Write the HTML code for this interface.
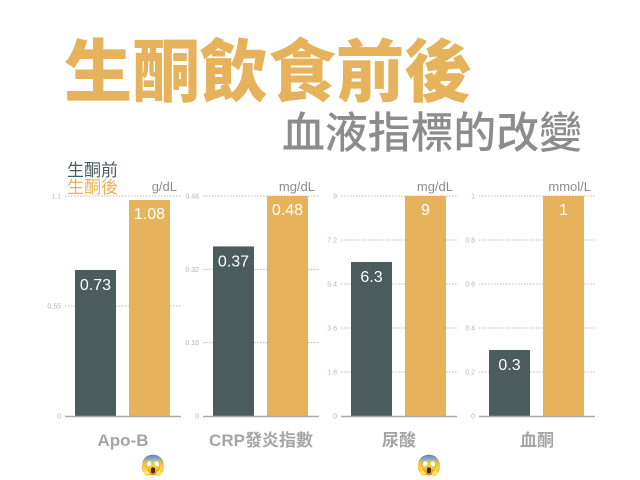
<!DOCTYPE html>
<html><head><meta charset="utf-8"><style>
html,body{margin:0;padding:0;background:#fff;width:640px;height:480px;overflow:hidden}
svg text{font-family:"Liberation Sans","Noto Sans CJK TC",sans-serif}
</style></head><body>
<svg id="c" width="640" height="480" viewBox="0 0 640 480">
<text x="64" y="96" font-size="68" font-weight="900" fill="#e6b25c" textLength="408" lengthAdjust="spacingAndGlyphs" style="font-family:'Noto Sans CJK TC',sans-serif">生酮飲食前後</text>
<text x="282" y="148" font-size="43" font-weight="500" fill="#8c8c8c" textLength="300" lengthAdjust="spacingAndGlyphs" style="font-family:'Noto Sans CJK TC',sans-serif">血液指標的改變</text>
<text x="67" y="176" font-size="17" fill="#4a5b5b">生酮前</text>
<text x="67" y="193" font-size="17" fill="#e6b25c">生酮後</text>
</svg>
<script>
const categories=["Apo-B","CRP發炎指數","尿酸","血酮"];
const units=["g/dL","mg/dL","mg/dL","mmol/L"];
const beforeValues=[0.73,0.37,6.3,0.3];
const afterValues=[1.08,0.48,9,1];
const axisMax=[1.1,0.48,9,1];
const tickLabels=[["0","0.55","1.1"],["0","0.16","0.32","0.48"],["0","1.8","3.6","5.4","7.2","9"],["0","0.2","0.4","0.6","0.8","1"]];
const beforeLabels=["0.73","0.37","6.3","0.3"];
const afterLabels=["1.08","0.48","9","1"];
const emojiOn=[true,false,true,false];

const svg=document.getElementById('c');
const NS='http://www.w3.org/2000/svg';
const base=416, top_=196, panelX0=65, panelStep=138, panelW=116;
function mk(t,a){const e=document.createElementNS(NS,t);for(const k in a)e.setAttribute(k,a[k]);svg.appendChild(e);return e;}
function yScale(i,v){return base-(v/axisMax[i])*(base-top_);}
categories.forEach((cat,i)=>{
  const x0=panelX0+i*panelStep;
  tickLabels[i].forEach(t=>{
    const y=yScale(i,parseFloat(t));
    if(parseFloat(t)>0){const g=mk('line',{x1:x0,x2:x0+panelW,y1:y,y2:y,stroke:'#bbb','stroke-width':1,'stroke-dasharray':'1.5,1.5'});
    
    }
    const tl=mk('text',{x:x0-4,y:y+2.5,'font-size':7,fill:'#b5b5b5','text-anchor':'end'});
    
    
    tl.textContent=t;
  });
  const bx=x0+10, ax=x0+64, bw=41;
  const yb=yScale(i,beforeValues[i]), ya=yScale(i,afterValues[i]);
  const b1=mk('rect',{x:bx,y:yb,width:bw,height:base-yb,fill:'#4a5c5d'});
  
  
  const b2=mk('rect',{x:ax,y:ya,width:bw,height:base-ya,fill:'#e6b25c'});
  
  
  const v1=mk('text',{x:bx+bw/2,y:yb+20,'font-size':16,fill:'#fff','text-anchor':'middle'});
  
  
  v1.textContent=beforeLabels[i];
  const v2=mk('text',{x:ax+bw/2,y:ya+19,'font-size':16,fill:'#fff','text-anchor':'middle'});
  
  
  v2.textContent=afterLabels[i];
  const ax_=mk('line',{x1:x0,x2:x0+panelW,y1:base+0.5,y2:base+0.5,stroke:'#aaa','stroke-width':1.5});
  
  
  const u=mk('text',{x:x0+panelW-4,y:191,'font-size':13,fill:'#8c8c8c','text-anchor':'end'});
  
  
  u.textContent=units[i];
  const c=mk('text',{x:x0+panelW/2,y:446,'font-size':17,'font-weight':'bold',fill:'#a5a5a5','text-anchor':'middle'});
  
  
  c.textContent=cat;
  if(emojiOn[i]){
    const e=mk('text',{x:x0+88,y:472,'font-size':20,'text-anchor':'middle'});
    
    
    e.textContent='😱';
  }
});
</script>
</body></html>
